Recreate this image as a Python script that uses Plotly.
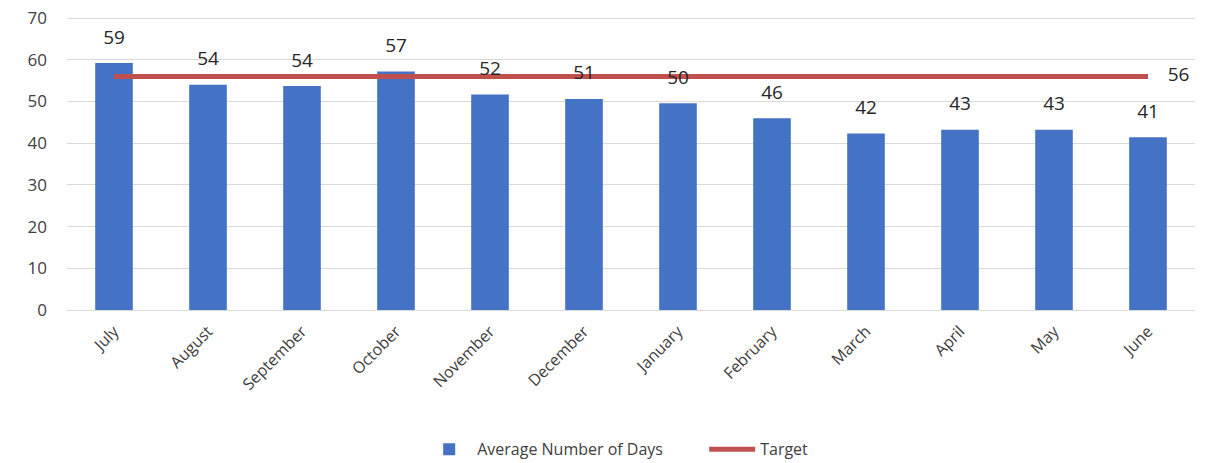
import plotly.graph_objects as go

months = ["July", "August", "September", "October", "November", "December",
          "January", "February", "March", "April", "May", "June"]
avg_days = [59.2, 54.0, 53.7, 57.2, 51.7, 50.6, 49.6, 46.0, 42.3, 43.2, 43.2, 41.4]
target = [56] * 12
y_ticks = [0, 10, 20, 30, 40, 50, 60, 70]

font_family = "Open Sans, Noto Sans, sans-serif"

fig = go.Figure()
fig.add_trace(go.Bar(
    x=months, y=avg_days, name="Average Number of Days",
    marker=dict(color="#4472C4", line=dict(width=0)),
    width=0.4,
))
fig.add_trace(go.Scatter(
    x=months, y=target, name="Target", mode="lines",
    line=dict(color="#C0504D", width=5),
))
# data labels above bars (invisible markers give the gap)
fig.add_trace(go.Scatter(
    x=months, y=avg_days, mode="markers+text", showlegend=False, hoverinfo="skip",
    marker=dict(size=22, opacity=0),
    text=[f"{v:.0f}" for v in avg_days], textposition="top center",
    textfont=dict(size=19, color="#262626"), cliponaxis=False,
))
# target label at end of line
fig.add_trace(go.Scatter(
    x=months[-1:], y=target[-1:], mode="markers+text", showlegend=False,
    hoverinfo="skip", marker=dict(size=30, opacity=0),
    text=[str(target[-1])], textposition="middle right",
    textfont=dict(size=19, color="#262626"), cliponaxis=False,
))

fig.update_xaxes(
    range=[-0.5, len(months) - 0.5],
    tickangle=-45, tickfont=dict(size=16, color="#404040"),
    showgrid=False, showline=False, ticks="", automargin=False,
    ticklabelstandoff=8,
)
fig.update_yaxes(
    range=[0, 70.5], tickvals=y_ticks, tickfont=dict(size=17, color="#404040"),
    gridcolor="#d9d9d9", gridwidth=1, zeroline=True, zerolinecolor="#d9d9d9",
    zerolinewidth=1, ticks="", automargin=False, ticklabelstandoff=19,
    ticklabeloverflow="allow",
)
fig.update_layout(
    width=1214, height=455,
    margin=dict(l=59, r=27, t=8, b=153, autoexpand=False),
    plot_bgcolor="white", paper_bgcolor="white",
    font=dict(family=font_family),
    showlegend=True,
    legend=dict(orientation="h", x=0.314, xanchor="left", y=-0.416, yanchor="top",
                itemwidth=46, entrywidth=222, entrywidthmode="pixels",
                font=dict(size=16, color="#404040")),
)

fig.write_html("out.html")
